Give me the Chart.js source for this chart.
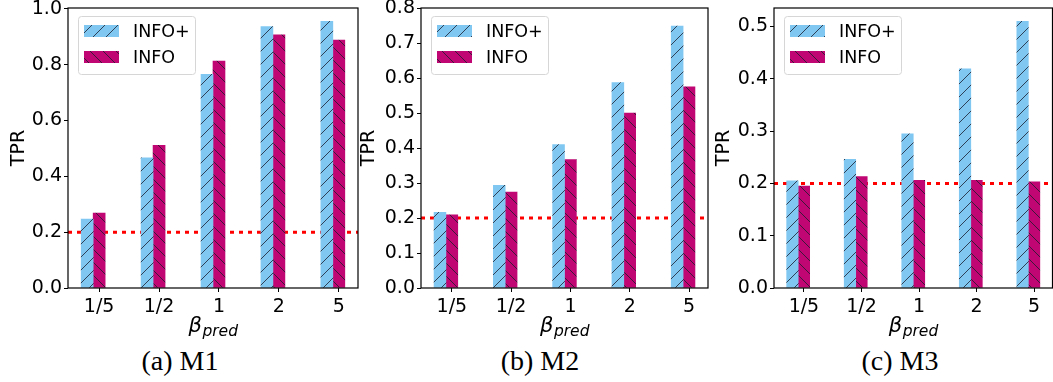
<!DOCTYPE html>
<html>
<head>
<meta charset="utf-8">
<script src="https://cdn.jsdelivr.net/npm/chart.js@4.4.1/dist/chart.umd.min.js"></script>
<style>
  body { margin: 0; background: #fff; width: 1053px; height: 382px; position: relative; overflow: hidden; }
  .panel { position: absolute; top: 0; }
  .caption { position: absolute; top: 345px; width: 200px; text-align: center;
             font-family: 'Liberation Serif', serif; font-size: 28px; color: #000; }
</style>
</head>
<body>
<div class="panel" style="left:0px"><canvas id="m1" width="360" height="340"></canvas></div>
<div class="panel" style="left:352px"><canvas id="m2" width="358" height="340"></canvas></div>
<div class="panel" style="left:705px"><canvas id="m3" width="348" height="340"></canvas></div>
<div class="caption" style="left:80px">(a) M1</div>
<div class="caption" style="left:440px">(b) M2</div>
<div class="caption" style="left:800px">(c) M3</div>

<script>
// beta_pred settings on the x axis
const betaLabels = ['1/5', '1/2', '1', '2', '5'];
const seriesNames = ['INFO+', 'INFO'];

// TPR per model
const m1InfoPlus = [0.247, 0.466, 0.765, 0.936, 0.955];
const m1Info     = [0.268, 0.511, 0.813, 0.907, 0.888];
const m2InfoPlus = [0.216, 0.293, 0.410, 0.587, 0.748];
const m2Info     = [0.209, 0.274, 0.367, 0.500, 0.575];
const m3InfoPlus = [0.205, 0.246, 0.295, 0.419, 0.510];
const m3Info     = [0.195, 0.213, 0.206, 0.206, 0.203];

// y tick labels
const m1Ticks = [0.0, 0.2, 0.4, 0.6, 0.8, 1.0];
const m2Ticks = [0.0, 0.1, 0.2, 0.3, 0.4, 0.5, 0.6, 0.7, 0.8];
const m3Ticks = [0.0, 0.1, 0.2, 0.3, 0.4, 0.5];

const chanceLevel = 0.2;

const BAR_W = 0.2;
const X_MIN = -0.52, X_MAX = 4.32;
const BLUE = '#80c8f2';
const MAGENTA = '#c00672';
const TICK_SIZE = 19;

Chart.defaults.font.family = 'DejaVu Sans';
Chart.defaults.color = '#000';

function hatch(color, dir) {
  const s = 13;
  const c = document.createElement('canvas');
  c.width = c.height = s;
  const g = c.getContext('2d');
  g.fillStyle = color;
  g.fillRect(0, 0, s, s);
  g.strokeStyle = 'rgba(25,30,45,0.8)';
  g.lineWidth = 1;
  g.beginPath();
  for (const o of [-s, 0, s]) {
    if (dir > 0) { g.moveTo(o, s); g.lineTo(o + s, 0); }
    else { g.moveTo(o, 0); g.lineTo(o + s, s); }
  }
  g.stroke();
  return g.createPattern(c, 'repeat');
}
const bluePattern = hatch(BLUE, 1);
const magentaPattern = hatch(MAGENTA, -1);

// dotted chance line, drawn behind the bars
const chanceLine = {
  id: 'chanceLine',
  beforeDatasetsDraw(chart) {
    const { ctx, chartArea: a, scales: { y } } = chart;
    const py = y.getPixelForValue(chanceLevel);
    ctx.save();
    ctx.strokeStyle = '#ff0000';
    ctx.lineWidth = 3;
    ctx.setLineDash([4, 5]);
    ctx.beginPath();
    ctx.moveTo(a.left, py);
    ctx.lineTo(a.right, py);
    ctx.stroke();
    ctx.restore();
  }
};

// frame, legend box and the beta_pred axis label
const decorations = {
  id: 'decorations',
  afterDraw(chart) {
    const { ctx, chartArea: a } = chart;
    ctx.save();
    ctx.strokeStyle = '#000';
    ctx.lineWidth = 1.2;
    ctx.strokeRect(a.left, a.top, a.right - a.left, a.bottom - a.top);

    // legend
    const lx = a.left + 10, ly = a.top + 8, lw = 117, lh = 58;
    ctx.beginPath();
    ctx.roundRect(lx + 0.5, ly + 0.5, lw, lh, 3);
    ctx.fillStyle = 'rgba(255,255,255,0.85)';
    ctx.fill();
    ctx.strokeStyle = '#d6d6d6';
    ctx.lineWidth = 1;
    ctx.stroke();
    chart.data.datasets.forEach((ds, i) => {
      const cy = ly + 15 + i * 26;
      ctx.fillStyle = ds.backgroundColor;
      ctx.fillRect(lx + 6, cy - 6, 35, 12);
      ctx.fillStyle = '#000';
      ctx.font = '17.5px "DejaVu Sans"';
      ctx.textBaseline = 'middle';
      ctx.textAlign = 'left';
      ctx.fillText(ds.label, lx + 55, cy + 1);
    });

    // x axis label: beta with "pred" subscript
    ctx.textBaseline = 'alphabetic';
    ctx.textAlign = 'left';
    ctx.font = 'italic 21px "DejaVu Sans"';
    const bw = ctx.measureText('β').width;
    ctx.font = 'italic 15.5px "DejaVu Sans"';
    const sw = ctx.measureText('pred').width;
    const x0 = (a.left + a.right) / 2 - (bw + sw) / 2;
    ctx.font = 'italic 21px "DejaVu Sans"';
    ctx.fillText('β', x0, 332);
    ctx.font = 'italic 15.5px "DejaVu Sans"';
    ctx.fillText('pred', x0 + bw + 0.5, 336);
    ctx.restore();
  }
};

function makeChart(id, infoPlus, info, yTicks, yAxisWidth, padRight, titlePad) {
  const canvas = document.getElementById(id);
  const plotWidth = canvas.width - yAxisWidth - padRight;
  const barPx = plotWidth / (X_MAX - X_MIN) * BAR_W;
  const yMax = Math.max(Math.max(...infoPlus, ...info) * 1.05, yTicks[yTicks.length - 1]);

  return new Chart(canvas, {
    type: 'bar',
    data: {
      datasets: [
        {
          label: seriesNames[0],
          data: infoPlus.map((v, i) => ({ x: i - BAR_W, y: v })),
          backgroundColor: bluePattern,
          barThickness: barPx,
          grouped: false
        },
        {
          label: seriesNames[1],
          data: info.map((v, i) => ({ x: i, y: v })),
          backgroundColor: magentaPattern,
          barThickness: barPx,
          grouped: false
        }
      ]
    },
    options: {
      responsive: false,
      animation: false,
      layout: { padding: { top: 8, right: padRight, left: 0, bottom: 0 } },
      plugins: { legend: { display: false }, tooltip: { enabled: false } },
      scales: {
        x: {
          type: 'linear',
          min: X_MIN,
          max: X_MAX,
          offset: false,
          afterBuildTicks: s => { s.ticks = betaLabels.map((_, i) => ({ value: i })); },
          afterFit: s => { s.height = 52; s.paddingLeft = 0; s.paddingRight = 0; },
          ticks: {
            callback: v => betaLabels[v],
            font: { size: TICK_SIZE },
            padding: 4,
            maxRotation: 0,
            autoSkip: false
          },
          grid: { offset: false, drawOnChartArea: false, drawTicks: true, tickLength: 4, color: '#000' },
          border: { display: false }
        },
        y: {
          min: 0,
          max: yMax,
          afterBuildTicks: s => { s.ticks = yTicks.map(v => ({ value: v })); },
          afterFit: s => { s.width = yAxisWidth; s.paddingTop = 0; s.paddingBottom = 0; },
          ticks: {
            callback: v => v.toFixed(1),
            font: { size: TICK_SIZE },
            padding: 2
          },
          title: {
            display: true,
            text: 'TPR',
            font: { size: TICK_SIZE },
            padding: { top: titlePad, bottom: 0 }
          },
          grid: { drawOnChartArea: false, drawTicks: true, tickLength: 4, color: '#000' },
          border: { display: false }
        }
      }
    },
    plugins: [chanceLine, decorations]
  });
}

makeChart('m1', m1InfoPlus, m1Info, m1Ticks, 68, 2, 8);
makeChart('m2', m2InfoPlus, m2Info, m2Ticks, 69, 2, 6);
makeChart('m3', m3InfoPlus, m3Info, m3Ticks, 69, 0.5, 8);
</script>
</body>
</html>
